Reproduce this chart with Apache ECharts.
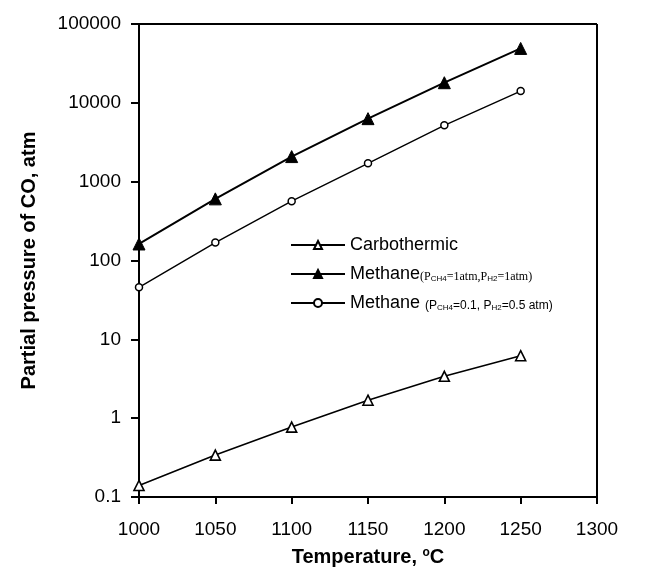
<!DOCTYPE html>
<html>
<head>
<meta charset="utf-8">
<script src="https://cdn.jsdelivr.net/npm/echarts@6/dist/echarts.min.js"></script>
<style>
  html, body { margin: 0; padding: 0; background: #fff; }
  #chart { width: 652px; height: 574px; }
</style>
</head>
<body>
<div id="chart"></div>
<script>
// 温度 (°C)
const temperatures = [1000, 1050, 1100, 1150, 1200, 1250]
// CO 分压 (atm)
const carbothermic = [0.14, 0.34, 0.77, 1.69, 3.4, 6.2]
const methane1atm = [162, 605, 2080, 6300, 18000, 49000]
const methaneLow = [45.7, 169, 565, 1710, 5180, 14100]
// 刻度
const xTicks = [1000, 1050, 1100, 1150, 1200, 1250, 1300]
const yTicks = [0.1, 1, 10, 100, 1000, 10000, 100000]

const font = '"Liberation Sans", Arial, sans-serif'
const serif = '"Liberation Serif", "Times New Roman", serif'

const pairs = vals => temperatures.map((t, i) => [t, vals[i]])

const chart = echarts.init(document.getElementById('chart'), null, { renderer: 'canvas' })

const option = {
  animation: false,
  backgroundColor: '#fff',
  grid: { left: 139, right: 55, top: 24, bottom: 77 },
  xAxis: {
    type: 'value',
    min: xTicks[0],
    max: xTicks[xTicks.length - 1],
    interval: 50,
    name: '{t|Temperature, }{s|o}{t|C}',
    nameLocation: 'middle',
    nameGap: 50,
    nameTextStyle: {
      rich: {
        t: { fontFamily: font, fontSize: 20, fontWeight: 'bold', color: '#000' },
        s: { fontFamily: font, fontSize: 12, fontWeight: 'bold', color: '#000', verticalAlign: 'top', padding: [0, 0, 9, 0] }
      }
    },
    axisLine: { show: true, lineStyle: { color: '#000', width: 2 } },
    axisTick: { show: true, inside: false, length: 7, lineStyle: { color: '#000', width: 2 } },
    axisLabel: { color: '#000', fontFamily: font, fontSize: 19, margin: 23, formatter: v => String(v) },
    splitLine: { show: false }
  },
  yAxis: {
    type: 'log',
    logBase: 10,
    min: yTicks[0],
    max: yTicks[yTicks.length - 1],
    name: 'Partial pressure of CO, atm',
    nameLocation: 'middle',
    nameGap: 100,
    nameTextStyle: { fontFamily: font, fontSize: 20, fontWeight: 'bold', color: '#000' },
    axisLine: { show: true, lineStyle: { color: '#000', width: 2 } },
    axisTick: { show: true, inside: false, length: 8, lineStyle: { color: '#000', width: 2 } },
    axisLabel: {
      color: '#000', fontFamily: font, fontSize: 19, margin: 18,
      formatter: v => String(+v.toPrecision(6))
    },
    minorTick: { show: false },
    splitLine: { show: false }
  },
  legend: {
    orient: 'vertical',
    left: 285,
    top: 231,
    itemGap: 11,
    itemWidth: 54,
    itemHeight: 10,
    textStyle: {
      fontFamily: font, fontSize: 18, color: '#000',
      rich: {
        m: { fontFamily: font, fontSize: 18, color: '#000' },
        sr: { fontFamily: serif, fontSize: 12, color: '#000', padding: [6, 0, 0, 0] },
        ss: { fontFamily: font, fontSize: 12, color: '#000', padding: [6, 0, 0, 0] },
        sb: { fontFamily: font, fontSize: 8, color: '#000', padding: [10, 0, 0, 0] }
      }
    },
    formatter: name => {
      if (name === 'Carbothermic') return '{m|Carbothermic}'
      if (name === 'Methane1') return '{m|Methane}{sr|(P}{sb|CH4}{sr|=1atm,P}{sb|H2}{sr|=1atm)}'
      return '{m|Methane }{ss|(P}{sb|CH4}{ss|=0.1, P}{sb|H2}{ss|=0.5 atm)}'
    },
    data: ['Carbothermic', 'Methane1', 'Methane2']
  },
  series: [
    {
      name: 'Carbothermic',
      type: 'line',
      data: pairs(carbothermic),
      symbol: 'triangle',
      symbolSize: 10,
      lineStyle: { color: '#000', width: 1.6 },
      itemStyle: { color: '#fff', borderColor: '#000', borderWidth: 1.6 },
      z: 3
    },
    {
      name: 'Methane1',
      type: 'line',
      data: pairs(methane1atm),
      symbol: 'triangle',
      symbolSize: 12,
      lineStyle: { color: '#000', width: 2 },
      itemStyle: { color: '#000', borderColor: '#000', borderWidth: 1 },
      z: 3
    },
    {
      name: 'Methane2',
      type: 'line',
      data: pairs(methaneLow),
      symbol: 'circle',
      symbolSize: 7,
      lineStyle: { color: '#000', width: 1.4 },
      itemStyle: { color: '#fff', borderColor: '#000', borderWidth: 1.5 },
      z: 3
    },
    // 右侧与顶部边框
    {
      type: 'line',
      silent: true,
      data: [],
      markLine: {
        silent: true,
        symbol: 'none',
        label: { show: false },
        lineStyle: { color: '#000', width: 2, type: 'solid' },
        data: [
          { xAxis: 1300 },
          { yAxis: 100000 }
        ]
      }
    }
  ]
}

chart.setOption(option)
</script>
</body>
</html>
